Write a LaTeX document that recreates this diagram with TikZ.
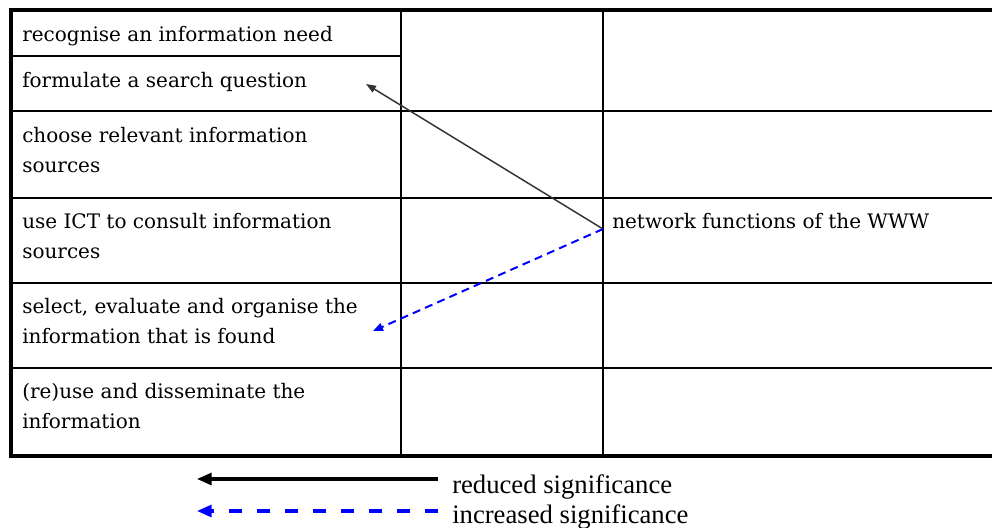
\documentclass[tikz,border=0pt]{standalone}
\usepackage{fontspec}
\setmainfont{DejaVu Serif}
\newfontfamily\legendfont{Liberation Serif}
\usetikzlibrary{arrows.meta}
\definecolor{shiftblue}{RGB}{0,0,255}
\tikzset{
  rule/.style={line width=1pt, black},
  frame/.style={line width=2.3pt, black},
  cell/.style={anchor=north west, inner sep=0pt, align=left,
    font=\fontsize{15}{22.5}\selectfont},
  legendtext/.style={anchor=base west, inner sep=0pt,
    font=\legendfont\fontsize{20}{22.5}\selectfont},
  less/.style={draw=black!80, line width=1.1pt, -{Triangle[length=7.5pt,width=5.5pt]}},
  more/.style={draw=shiftblue, line width=1.5pt, dash pattern=on 6pt off 4pt,
    -{Triangle[length=7.5pt,width=6pt]}}
}
\newcommand{\CellText}[3][]{\node[cell,#1] (#2) {#3};}

\begin{document}
\begin{tikzpicture}[x=0.75pt,y=-0.75pt]
\useasboundingbox (0,0) rectangle (992,528);

	\draw[rule] (401,10) -- (401,456);
	\draw[rule] (603,10) -- (603,456);
	\draw[rule] (11,56) -- (401,56);
	\foreach \y in {111,198,283,368}
		\draw[rule] (11,\y) -- (992,\y);
	\draw[frame] (992,10) -- (11,10) -- (11,456) -- (992,456);

	\CellText[at={(22,26)}]{need}{recognise an information need}
	\CellText[at={(22,72)}]{question}{formulate a search question}
	\CellText[at={(22,127)}]{sources}{choose relevant information\\sources}
	\CellText[at={(22,213)}]{consult}{use ICT to consult information\\sources}
	\CellText[at={(22,298)}]{select}{select, evaluate and organise the\\information that is found}
	\CellText[at={(22,383)}]{reuse}{(re)use and disseminate the\\information}
	\CellText[at={(612,213)}]{www}{network functions of the WWW}

	\coordinate (wwwleft) at (603,229);
	\coordinate (questionend) at (366,84);
	\coordinate (selectend) at (373,331);
	\draw[less] (wwwleft) -- (questionend);
	\draw[more] (wwwleft) -- (selectend);

	\coordinate (lessstart) at (438,479);
	\coordinate (lessend) at (197,479);
	\coordinate (morestart) at (438,511);
	\coordinate (moreend) at (197,511);
	\draw[less, draw=black, line width=2.3pt, -{Triangle[length=11pt,width=9pt]}] (lessstart) -- (lessend);
	\draw[more, line width=2.3pt, dash pattern=on 10pt off 11pt, -{Triangle[length=11pt,width=9pt]}] (morestart) -- (moreend);
	\node[legendtext] (lesslabel) at (452,493) {reduced significance};
	\node[legendtext] (morelabel) at (452,523) {increased significance};

\end{tikzpicture}
\end{document}
